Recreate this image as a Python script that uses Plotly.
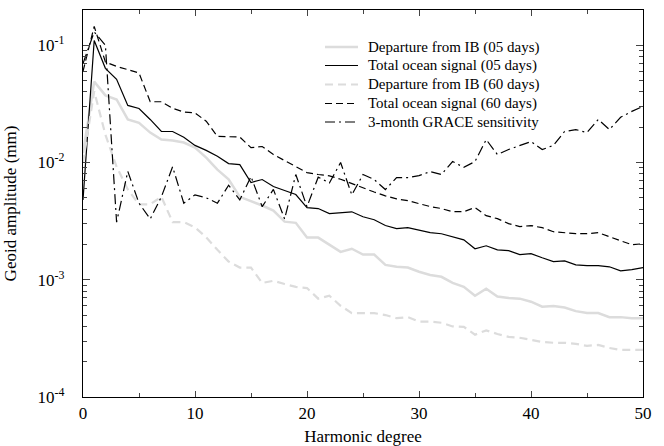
import plotly.graph_objects as go

degree = list(range(0, 51))

dep_ib_05 = [0.012, 0.049, 0.0374, 0.0345, 0.0233, 0.0218, 0.018, 0.0157, 0.0154, 0.0148,
             0.0134, 0.0110, 0.0087, 0.0072, 0.0051, 0.0047, 0.0043, 0.00389, 0.00313, 0.00306,
             0.00229, 0.00229, 0.00199, 0.00173, 0.00184, 0.00164, 0.00164, 0.00134, 0.00129, 0.00127,
             0.00117, 0.00110, 0.00106, 0.00094, 0.00087, 0.00073, 0.00084, 0.00072, 0.00070, 0.00069,
             0.00065, 0.00059, 0.000598, 0.00058, 0.00054, 0.00052, 0.00052, 0.00048, 0.00048, 0.00047,
             0.00047]

total_05 = [0.0048, 0.11, 0.0636, 0.0512, 0.0307, 0.0289, 0.0233, 0.0184, 0.0184, 0.0164,
            0.0140, 0.0127, 0.0113, 0.0098, 0.0096, 0.00675, 0.00716, 0.00624, 0.00577, 0.00533,
            0.00413, 0.00405, 0.00367, 0.00374, 0.0038, 0.00345, 0.00325, 0.0029, 0.00273, 0.00278,
            0.00263, 0.00252, 0.00247, 0.00233, 0.00219, 0.00184, 0.00195, 0.0018, 0.00177, 0.00164,
            0.00167, 0.00154, 0.00143, 0.00145, 0.00134, 0.00132, 0.00132, 0.00129, 0.00119, 0.00122,
            0.00127]

dep_ib_60 = [0.010, 0.0405, 0.0173, 0.0092, 0.0059, 0.0044, 0.0044, 0.0051, 0.0031, 0.0031,
             0.0028, 0.0023, 0.0018, 0.00143, 0.00127, 0.00127, 0.00094, 0.00098, 0.00092, 0.00087,
             0.00085, 0.00069, 0.00073, 0.00060, 0.00052, 0.00052, 0.00052, 0.00050, 0.00047, 0.00048,
             0.00044, 0.00044, 0.00043, 0.00040, 0.000397, 0.00034, 0.00037, 0.000345, 0.000326, 0.00032,
             0.000307, 0.000295, 0.00029, 0.00029, 0.000284, 0.000273, 0.000278, 0.000262, 0.000252, 0.000252,
             0.000252]

total_60 = [0.06, 0.145, 0.072, 0.066, 0.062, 0.058, 0.033, 0.033, 0.029, 0.027,
            0.0265, 0.0225, 0.0167, 0.0167, 0.0165, 0.0134, 0.0137, 0.0117, 0.0104, 0.0092,
            0.0082, 0.0079, 0.0077, 0.0072, 0.0066, 0.0061, 0.0056, 0.0052, 0.0049, 0.00473,
            0.00446, 0.00421, 0.00405, 0.00381, 0.00381, 0.00413, 0.00352, 0.00332, 0.00301, 0.00284,
            0.0029, 0.00278, 0.00257, 0.00252, 0.00247, 0.00247, 0.00252, 0.00233, 0.00215, 0.00199,
            0.00203]

grace_3m = [0.07, 0.13, 0.10, 0.0031, 0.0084, 0.0045, 0.0033, 0.0051, 0.0092, 0.0045,
            0.0053, 0.0050, 0.0045, 0.0064, 0.0048, 0.0076, 0.0042, 0.0059, 0.0033, 0.0079,
            0.0042, 0.0075, 0.0067, 0.0100, 0.0053, 0.0079, 0.00716, 0.00588, 0.00744, 0.00744,
            0.00774, 0.00837, 0.0079, 0.0102, 0.0091, 0.0102, 0.0157, 0.0117, 0.0129, 0.0140,
            0.0151, 0.0129, 0.0140, 0.0184, 0.0191, 0.0180, 0.0233, 0.0191, 0.0243, 0.0273,
            0.0301]

names = ["Departure from IB (05 days)", "Total ocean signal (05 days)",
         "Departure from IB (60 days)", "Total ocean signal (60 days)",
         "3-month GRACE sensitivity"]

y_tickvals = [1e-4, 1e-3, 1e-2, 1e-1]
y_ticktext = ["10<sup>-4</sup>", "10<sup>-3</sup>", "10<sup>-2</sup>", "10<sup>-1</sup>"]
x_tickvals = [0, 10, 20, 30, 40, 50]

LIGHT = "#dcdcdc"
FONT = "Liberation Serif"

series = [dep_ib_05, total_05, dep_ib_60, total_60, grace_3m]
styles = [dict(color=LIGHT, width=2.5),
          dict(color="black", width=1.2),
          dict(color=LIGHT, width=2.2, dash="8px,5px"),
          dict(color="black", width=1.2, dash="7px,4px"),
          dict(color="black", width=1.2, dash="10px,4px,2px,4px")]

fig = go.Figure()
for nm, ys, st in zip(names, series, styles):
    fig.add_trace(go.Scatter(x=degree, y=ys, mode="lines", name=nm, line=st, showlegend=False))

# hand-built legend (paper coordinates)
L, R, T, B = 83, 643, 10, 397
def px(xp):
    return (xp - L) / (R - L)
def py(yp):
    return (B - yp) / (B - T)

row_y = [47, 65.5, 84.5, 103.5, 122]
for i, (nm, st) in enumerate(zip(names, styles)):
    fig.add_shape(type="line", xref="paper", yref="paper",
                  x0=px(325), x1=px(358), y0=py(row_y[i]), y1=py(row_y[i]),
                  line=st)
    fig.add_annotation(xref="paper", yref="paper", x=px(366), y=py(row_y[i]),
                       xanchor="left", yanchor="middle", text=nm, showarrow=False,
                       font=dict(family=FONT, size=15, color="black"))

minor_y = []
for d in [1e-4, 1e-3, 1e-2, 1e-1]:
    for m in range(2, 10):
        v = d * m
        if v <= 0.2:
            minor_y.append(v)

fig.update_layout(
    width=664, height=446,
    margin=dict(l=L, r=664 - R, t=T, b=446 - B),
    paper_bgcolor="white", plot_bgcolor="white",
    font=dict(family=FONT, size=16, color="black"),
    showlegend=False,
    xaxis=dict(range=[0, 50], tickvals=x_tickvals, ticks="inside", ticklen=6,
               showline=True, linecolor="black", linewidth=1.2, mirror="allticks",
               showgrid=False, zeroline=False, automargin=False,
               minor=dict(dtick=5, tick0=0, ticks="inside", ticklen=4, showgrid=False),
               title=dict(text="Harmonic degree", font=dict(family=FONT, size=17), standoff=10),
               tickfont=dict(family=FONT, size=17)),
    yaxis=dict(type="log", range=[-4, -0.699], tickvals=y_tickvals, ticktext=y_ticktext,
               ticks="inside", ticklen=7, showline=True, linecolor="black", linewidth=1.2,
               mirror="allticks", showgrid=False, zeroline=False, automargin=False,
               ticklabelstandoff=14,
               minor=dict(tickvals=minor_y, ticks="inside", ticklen=4, showgrid=False),
               title=dict(text="Geoid amplitude (mm)", font=dict(family=FONT, size=17), standoff=16),
               tickfont=dict(family=FONT, size=17)),
)

fig.write_html("out.html")
